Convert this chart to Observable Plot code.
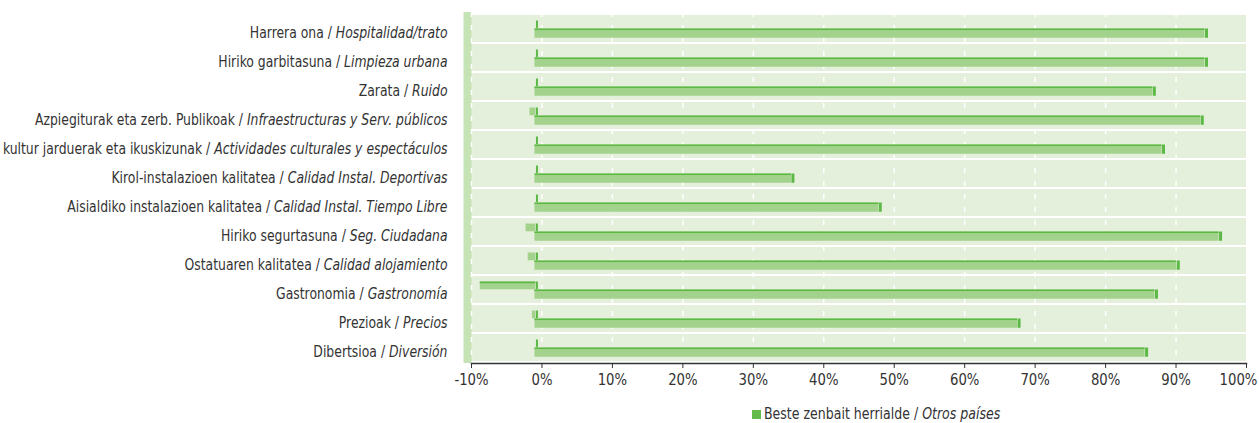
<!DOCTYPE html>
<html>
<head>
<meta charset="utf-8">
<script src="https://cdn.jsdelivr.net/npm/d3@7"></script>
<script src="https://cdn.jsdelivr.net/npm/@observablehq/plot@0.6"></script>
<style>
  html, body { margin: 0; padding: 0; background: #fff; }
  body { width: 1259px; height: 423px; overflow: hidden; font-family: 'Liberation Sans Narrow', 'DejaVu Sans Condensed', sans-serif; color: #333; }
  #legend { height: 30px; position: relative; font-size: 15px; }
  #legend .item { position: absolute; left: 752px; top: 12px; display: flex; align-items: center; white-space: nowrap; }
  #legend .sw { width: 9px; height: 9px; background: #62bb4b; margin-right: 3px; }
  #legend .txt { display: inline-block; transform: scaleX(0.93); transform-origin: left center; }
</style>
</head>
<body>
<div id="chart"></div>
<div id="legend"><div class="item"><span class="sw"></span><span class="txt">Beste zenbait herrialde / <i>Otros países</i></span></div></div>
<script>
// Categories (Basque / Spanish)
const categoriesEu = [
  "Harrera ona", "Hiriko garbitasuna", "Zarata", "Azpiegiturak eta zerb. Publikoak",
  "kultur jarduerak eta ikuskizunak", "Kirol-instalazioen kalitatea", "Aisialdiko instalazioen kalitatea",
  "Hiriko segurtasuna", "Ostatuaren kalitatea", "Gastronomia", "Prezioak", "Dibertsioa"
];
const categoriesEs = [
  "Hospitalidad/trato", "Limpieza urbana", "Ruido", "Infraestructuras y Serv. públicos",
  "Actividades culturales y espectáculos", "Calidad Instal. Deportivas", "Calidad Instal. Tiempo Libre",
  "Seg. Ciudadana", "Calidad alojamiento", "Gastronomía", "Precios", "Diversión"
];
// Series "Beste zenbait herrialde / Otros países" (%)
const otrosPaises = [95.1, 95.1, 87.7, 94.5, 89.0, 36.4, 48.8, 97.1, 91.1, 88.0, 68.5, 86.6];
// Second (unlabelled) series drawn behind (%)
const serieB = [0, 0, 0, -0.85, 0, 0, 0, -1.4, -1.1, -7.9, -0.5, 0];
// Axis ticks (%)
const xTicks = [-10, 0, 10, 20, 30, 40, 50, 60, 70, 80, 90, 100];

const labels = categoriesEu.map((eu, i) => eu + " / " + categoriesEs[i]);
const data = labels.map((label, i) => ({label, a: otrosPaises[i], b: serieB[i]}));

const BW = 351 / 12; // band height helper for insets
const fill = "#a3d28c", edge = "#5cb946";

const chart = Plot.plot({
  width: 1259,
  height: 393,
  marginLeft: 471,
  marginRight: 13,
  marginTop: 12,
  marginBottom: 30,
  style: {fontFamily: "'Liberation Sans Narrow', 'DejaVu Sans Condensed', sans-serif", color: "#333", background: "#fff"},
  x: {domain: [-10, 100], ticks: xTicks},
  y: {domain: labels, padding: 0},
  marks: [
    // back wall rows
    Plot.barX(data, {y: "label", x1: -10, x2: 100, fill: "#e4efdc", insetTop: 1, insetBottom: 1}),
    // left side wall
    Plot.ruleX([-10], {stroke: "#c6e3b5", strokeWidth: 8, dx: -4}),
    // dashed gridlines
    Plot.ruleX(xTicks.slice(0, -1), {stroke: "#fff", strokeWidth: 1.5, strokeDasharray: "5,8"}),
    // back series
    Plot.barX(data, {y: "label", x1: 0, x2: "b", fill: fill, dx: -6, insetTop: 6.5, insetBottom: BW - 14.5}),
    Plot.barX(data.filter(d => d.b < -3), {y: "label", x1: 0, x2: "b", fill: edge, dx: -6, insetTop: 6.5, insetBottom: BW - 8.5}),
    Plot.tickX(data, {y: "label", x: 0, stroke: edge, strokeWidth: 2, dx: -5, insetTop: 6.5, insetBottom: BW - 14.5}),
    // main series
    Plot.barX(data, {y: "label", x1: 0, x2: "a", fill: fill, dx: -7, insetTop: 14.5, insetBottom: BW - 24}),
    Plot.barX(data, {y: "label", x1: 0, x2: "a", fill: edge, dx: -7, insetTop: 14.5, insetBottom: BW - 16.3}),
    Plot.tickX(data, {y: "label", x: "a", stroke: edge, strokeWidth: 3, dx: -5.5, insetTop: 14.5, insetBottom: BW - 24}),
    // axes
    Plot.axisY({tickSize: 0, tickPadding: 24, fontSize: 15, label: null}),
    Plot.axisX({ticks: xTicks, tickFormat: d => d + "%", tickSize: 5, tickPadding: 5, fontSize: 16, label: null, stroke: "#333"}),
    Plot.frame({anchor: "bottom", stroke: "#333", strokeWidth: 1.5})
  ]
});

document.getElementById("chart").appendChild(chart);

// Basque part upright, Spanish part italic
d3.select(chart).selectAll('g[aria-label="y-axis tick label"] text').each(function() {
  const t = d3.select(this);
  const full = t.text();
  const k = full.indexOf(" / ");
  t.text(null);
  t.append("tspan").text(full.slice(0, k + 3));
  t.append("tspan").attr("font-style", "italic").text(full.slice(k + 3));
});

// condensed look: squeeze text horizontally around its anchor
function squeeze(sel, s, shiftY, shiftLast) {
  const n = sel.size();
  sel.each(function(_, i) {
    const el = d3.select(this);
    const xa = el.attr("x");
    const x = xa && !isNaN(+xa) ? +xa : 0;
    const tr = el.attr("transform") || "";
    const sh = (shiftLast && i === n - 1) ? shiftLast : 0;
    if (xa && !isNaN(+xa)) el.attr("x", null);
    el.attr("transform", `${tr} translate(${x + sh},${shiftY}) scale(${s},1)`);
  });
}
squeeze(d3.select(chart).selectAll('g[aria-label="y-axis tick label"] text'), 0.92, 4, 0);
squeeze(d3.select(chart).selectAll('g[aria-label="x-axis tick label"] text'), 0.92, 0, -8);
d3.select(chart).selectAll('g[aria-label="y-axis tick label"], g[aria-label="x-axis tick label"]').attr("fill", "#333");
</script>
</body>
</html>
